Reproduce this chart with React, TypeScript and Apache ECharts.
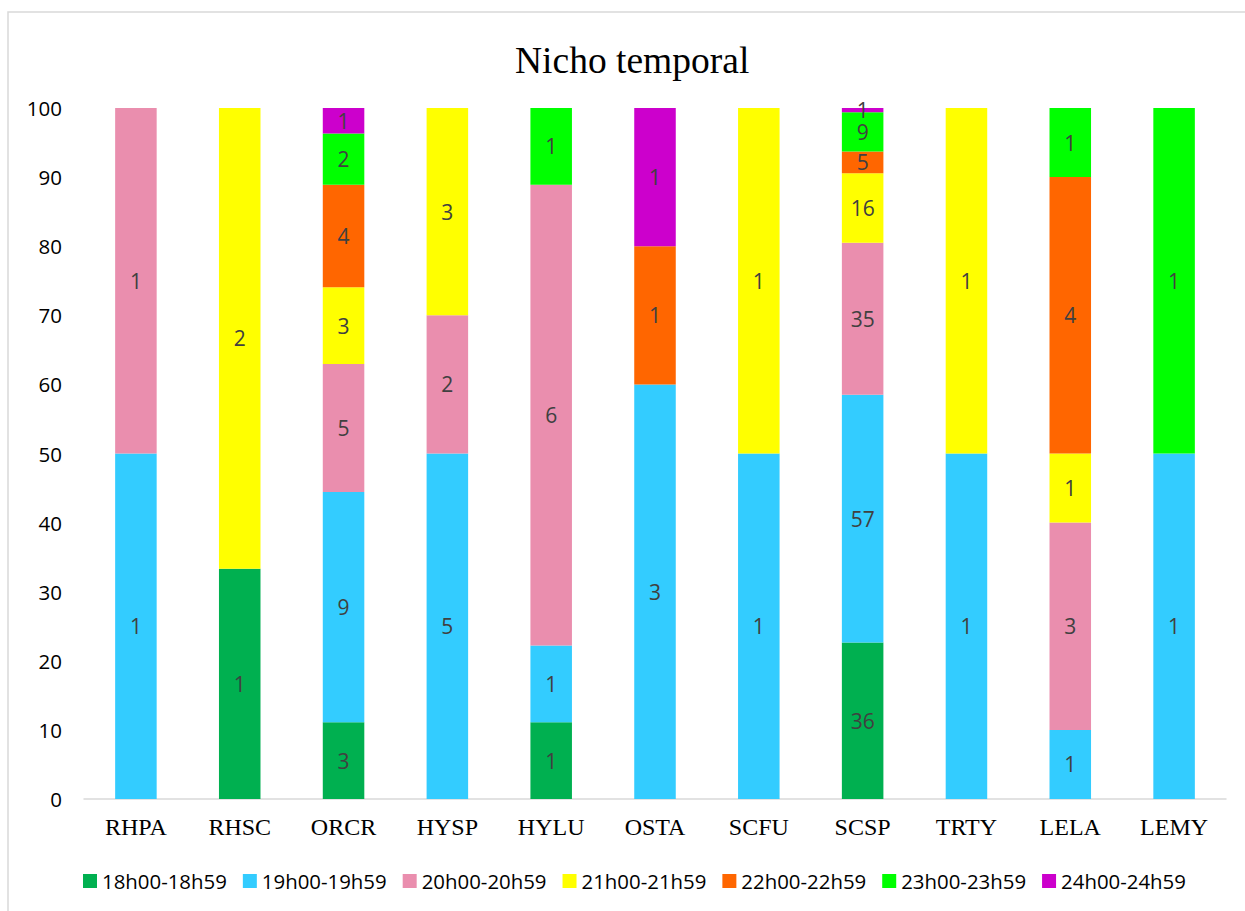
import React, { useEffect, useRef } from "react";
import * as echarts from "echarts";

const categories = ["RHPA", "RHSC", "ORCR", "HYSP", "HYLU", "OSTA", "SCFU", "SCSP", "TRTY", "LELA", "LEMY"];
const seriesNames = [
  "18h00-18h59",
  "19h00-19h59",
  "20h00-20h59",
  "21h00-21h59",
  "22h00-22h59",
  "23h00-23h59",
  "24h00-24h59",
];
const colors = ["#00B050", "#33CCFF", "#EA8EAE", "#FFFF00", "#FF6600", "#00FF00", "#CC00CC"];

// counts per time slot, one entry per category
const c18 = [0, 1, 3, 0, 1, 0, 0, 36, 0, 0, 0];
const c19 = [1, 0, 9, 5, 1, 3, 1, 57, 1, 1, 1];
const c20 = [1, 0, 5, 2, 6, 0, 0, 35, 0, 3, 0];
const c21 = [0, 2, 3, 3, 0, 0, 1, 16, 1, 1, 0];
const c22 = [0, 0, 4, 0, 0, 1, 0, 5, 0, 4, 0];
const c23 = [0, 0, 2, 0, 1, 0, 0, 9, 0, 1, 1];
const c24 = [0, 0, 1, 0, 0, 1, 0, 1, 0, 0, 0];
const counts = [c18, c19, c20, c21, c22, c23, c24];

const yTicks = [0, 10, 20, 30, 40, 50, 60, 70, 80, 90, 100];

export default function App() {
  const ref = useRef<HTMLDivElement>(null);
  useEffect(() => {
    if (!ref.current) return;
    const chart = echarts.init(ref.current, null, { renderer: "svg" });
    const totals = categories.map((_, i) => counts.reduce((s, arr) => s + arr[i], 0));
    const series = counts.map((arr, si) => ({
      name: seriesNames[si],
      type: "bar",
      stack: "total",
      barWidth: "40%",
      itemStyle: { color: colors[si] },
      label: {
        show: true,
        position: "inside",
        color: "#404040",
        fontFamily: "Open Sans",
        fontSize: 21,
        formatter: (p: any) => {
          const c = arr[p.dataIndex];
          return c > 0 ? String(c) : "";
        },
      },
      data: arr.map((c, i) => (c / totals[i]) * 100),
    }));
    chart.setOption({
      animation: false,
      title: {
        text: "Nicho temporal",
        left: 510,
        top: 36,
        textStyle: { fontFamily: "Liberation Serif", fontSize: 37.5, fontWeight: "normal", color: "#000" },
      },
      graphic: [
        {
          type: "rect",
          shape: { x: 8, y: 12, width: 1260, height: 940 },
          style: { fill: "none", stroke: "#d9d9d9", lineWidth: 1.5 },
          silent: true,
        },
      ],
      legend: {
        left: 78,
        top: 866,
        itemWidth: 14,
        itemHeight: 14,
        itemGap: 16,
        icon: "rect",
        textStyle: { fontFamily: "Open Sans", fontSize: 20.4, color: "#000" },
        data: seriesNames,
      },
      grid: { left: 84, right: 19, top: 108, bottom: 112, containLabel: false },
      xAxis: {
        type: "category",
        data: categories,
        axisLine: { lineStyle: { color: "#d9d9d9", width: 1.5 } },
        axisTick: { show: false },
        axisLabel: { fontFamily: "Liberation Serif", fontSize: 24, color: "#000", margin: 16 },
      },
      yAxis: {
        type: "value",
        min: yTicks[0],
        max: yTicks[yTicks.length - 1],
        interval: 10,
        axisLine: { show: false },
        axisTick: { show: false },
        splitLine: { show: false },
        axisLabel: { fontFamily: "Open Sans", fontSize: 20.5, color: "#000", margin: 22 },
      },
      series,
    });
    return () => chart.dispose();
  }, []);
  return (
    <div
      ref={ref}
      style={{ position: "fixed", left: 0, top: 0, width: 1245, height: 911, background: "#fff" }}
    />
  );
}
